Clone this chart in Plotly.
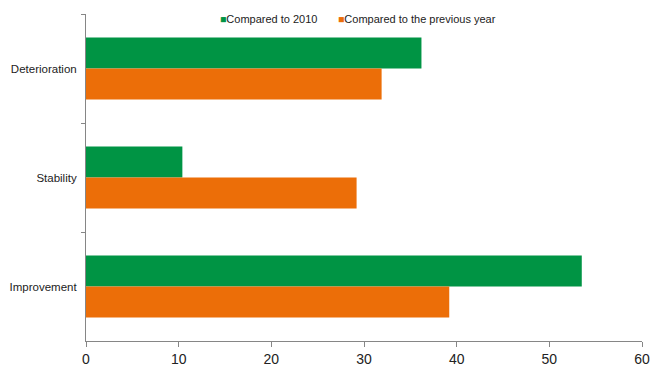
import plotly.graph_objects as go

# Share of indicators by direction of change
categories = ["Deterioration", "Stability", "Improvement"]
vs_2010 = [36.2, 10.4, 53.5]
vs_prev_year = [31.9, 29.2, 39.2]
x_ticks = [0, 10, 20, 30, 40, 50, 60]
series_names = ["Compared to 2010", "Compared to the previous year"]

GREEN = "#009444"
ORANGE = "#EC6E08"
colors = [GREEN, ORANGE]

fig = go.Figure()
for name, vals, color in zip(series_names, [vs_2010, vs_prev_year], colors):
    fig.add_trace(go.Bar(
        y=categories, x=vals, orientation="h", name=name,
        marker=dict(color=color, line=dict(width=0)), showlegend=False,
    ))

# compact legend keys drawn as text: small coloured square right against the label
legend_x = [0.237, 0.45]
for name, color, lx in zip(series_names, colors, legend_x):
    fig.add_annotation(
        xref="paper", yref="paper", x=lx, y=0.984, xanchor="left", yanchor="middle",
        showarrow=False, align="left",
        text=f"<span style='color:{color};font-size:10.5px'>■</span>{name}",
        font=dict(size=11, color="#222"),
    )

fig.update_layout(
    width=654, height=369,
    margin=dict(l=86, r=12, t=14, b=28),
    paper_bgcolor="white", plot_bgcolor="white",
    barmode="group", bargap=0.43, bargroupgap=0,
    font=dict(family="Liberation Sans, Arial, sans-serif", color="#222"),
    showlegend=False,
)
fig.update_xaxes(
    range=[0, 60], tickvals=x_ticks, showgrid=False, zeroline=False,
    showline=True, linecolor="#868686", linewidth=1, automargin=False,
    ticks="outside", ticklen=5, tickcolor="#868686",
    tickfont=dict(size=14, color="#222"),
)
fig.update_yaxes(
    autorange="reversed", showgrid=False, zeroline=False,
    showline=True, linecolor="#868686", linewidth=1, automargin=False,
    ticks="outside", ticklen=4, tickcolor="#868686", tickson="boundaries",
    tickfont=dict(size=11.5, color="#222"), ticklabelstandoff=6,
)

fig.write_html("out.html")
